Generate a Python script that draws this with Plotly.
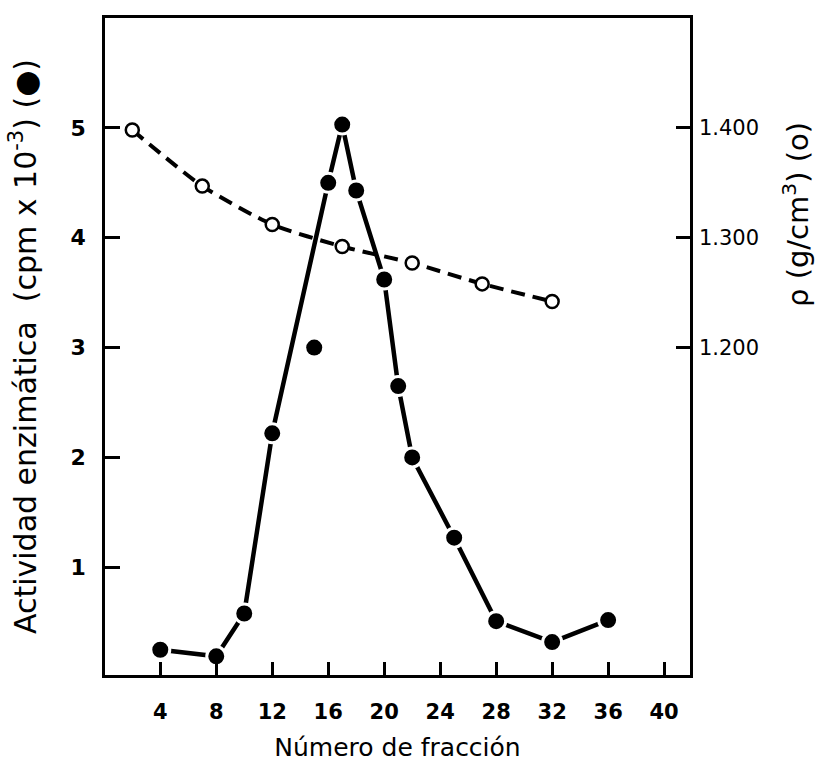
import plotly.graph_objects as go

# Activity (filled circles), cpm x 10^-3
act_x = [4, 8, 10, 12, 16, 17, 18, 20, 21, 22, 25, 28, 32, 36]
act_y = [0.25, 0.19, 0.58, 2.22, 4.50, 5.03, 4.43, 3.62, 2.65, 2.00, 1.27, 0.51, 0.32, 0.52]
# isolated point not on the line
iso_x = [15]
iso_y = [3.0]

# Density (open circles), g/cm^3
den_x = [2, 7, 12, 17, 22, 27, 32]
den_y = [1.398, 1.347, 1.312, 1.292, 1.277, 1.258, 1.242]

x_ticks = [4, 8, 12, 16, 20, 24, 28, 32, 36, 40]
y_ticks = [1, 2, 3, 4, 5]
y2_ticks = [1.2, 1.3, 1.4]
y2_labels = ["1.200", "1.300", "1.400"]

FONT = "DejaVu Sans"

fig = go.Figure()

fig.add_trace(go.Scatter(
    x=den_x, y=den_y, yaxis="y2", mode="lines+markers",
    line=dict(color="black", width=4, dash="14px,8px", shape="spline", smoothing=0.6),
    marker=dict(symbol="circle", size=13, color="white",
                line=dict(color="black", width=2.5)),
    showlegend=False,
))

fig.add_trace(go.Scatter(
    x=act_x, y=act_y, mode="lines+markers",
    line=dict(color="black", width=4.5),
    marker=dict(symbol="circle", size=19, color="black",
                line=dict(color="white", width=3)),
    showlegend=False,
))

fig.add_trace(go.Scatter(
    x=iso_x, y=iso_y, mode="markers",
    marker=dict(symbol="circle", size=16, color="black"),
    showlegend=False,
))

fig.update_layout(
    width=822, height=762,
    margin=dict(l=105, r=132, t=18, b=87),
    paper_bgcolor="white", plot_bgcolor="white",
    font=dict(family=FONT, color="black"),
    xaxis=dict(
        range=[0.05, 41.85], tickvals=x_ticks, ticks="inside", ticklen=13,
        tickwidth=2.5, tickcolor="black", automargin=False,
        showline=True, linewidth=2.5, linecolor="black", mirror=True,
        showgrid=False, zeroline=False,
        tickfont=dict(size=21, family=FONT, weight="bold"),
        ticklabelstandoff=16,
        title=dict(text="Número de fracción", font=dict(size=25, family=FONT), standoff=22),
    ),
    yaxis=dict(
        range=[0.02, 6.0], tickvals=y_ticks, ticks="inside", ticklen=15,
        tickwidth=2.5, tickcolor="black", automargin=False,
        showline=True, linewidth=2.5, linecolor="black", mirror=True,
        showgrid=False, zeroline=False,
        tickfont=dict(size=22, family=FONT, weight="bold"),
        ticklabelstandoff=12,
        title=dict(text="Actividad enzimática  (cpm x 10<sup>-3</sup>) (●)",
                   font=dict(size=30, family=FONT), standoff=26),
    ),
    yaxis2=dict(
        range=[0.902, 1.5], overlaying="y", side="right",
        tickvals=y2_ticks, ticktext=y2_labels, ticks="inside", ticklen=14,
        tickwidth=2.5, tickcolor="black", automargin=False,
        showline=True, linewidth=2.5, linecolor="black",
        showgrid=False, zeroline=False,
        tickfont=dict(size=21, family=FONT),
        ticklabelstandoff=2,
    ),
    annotations=[dict(
        text="ρ (g/cm<sup>3</sup>) (o)", textangle=-90,
        xref="paper", yref="paper", x=(796 - 105) / 585, y=(675 - 215) / 657,
        xanchor="center", yanchor="middle", showarrow=False,
        font=dict(size=29, family=FONT, color="black"),
    )],
)

fig.write_html("out.html")
